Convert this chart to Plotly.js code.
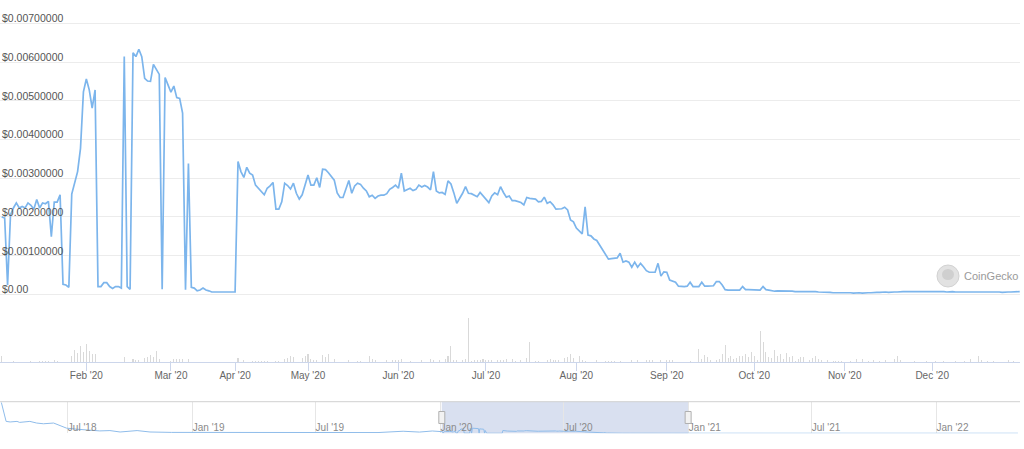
<!DOCTYPE html>
<html>
<head>
<meta charset="utf-8">
<script src="https://cdn.plot.ly/plotly-3.0.1.min.js"></script>
<style>
html,body{margin:0;padding:0;background:#ffffff;}
#chart{width:1024px;height:449px;}
</style>
</head>
<body>
<div id="chart"></div>
<script>
// ---------- DATA ----------
// daily series, Jan 3 2020 .. Dec 31 2020 (days without data are skipped -> ordinal axis)
const startDate = '2020-01-03';
const endDate = '2020-12-31';
const missingDays = ['2020-03-21','2020-03-22','2020-03-23','2020-03-24','2020-03-25',
  '2020-03-26','2020-03-27','2020-03-28','2020-03-29',
  '2020-04-12','2020-04-13','2020-04-14','2020-04-15','2020-04-16'];

const prices = [
  0.00200,0.00197,0.00024,0.00205,0.00223,0.00236,0.00223,0.00227,0.00223,0.00236,
  0.00230,0.00220,0.00245,0.00223,0.00236,0.00234,0.00240,0.00149,0.00238,0.00238,
  0.00257,0.00026,0.00024,0.00018,0.00259,0.00287,0.00317,0.00377,0.00523,0.00556,
  0.00528,0.00481,0.00528,0.00020,0.00020,0.00030,0.00030,0.00020,0.00015,0.00020,
  0.00020,0.00016,0.00614,0.00020,0.00013,0.00624,0.00614,0.00633,0.00614,0.00558,
  0.00551,0.00550,0.00594,0.00581,0.00568,0.00013,0.00560,0.00541,0.00522,0.00538,
  0.00508,0.00506,0.00468,0.00012,0.00338,0.00018,0.00016,0.00009,0.00011,0.00016,
  0.00011,0.00009,0.00006,0.00006,0.00006,0.00007,0.00006,0.00006,0.00006,0.00006,
  0.00006,0.00343,0.00317,0.00302,0.00328,0.00313,0.00308,0.00282,0.00274,0.00267,
  0.00257,0.00274,0.00280,0.00289,0.00220,0.00220,0.00239,0.00287,0.00281,0.00272,
  0.00287,0.00261,0.00246,0.00257,0.00282,0.00308,0.00282,0.00282,0.00301,0.00276,
  0.00323,0.00322,0.00314,0.00304,0.00295,0.00262,0.00250,0.00250,0.00270,0.00294,
  0.00261,0.00280,0.00287,0.00284,0.00274,0.00267,0.00252,0.00256,0.00248,0.00254,
  0.00256,0.00256,0.00260,0.00271,0.00276,0.00282,0.00274,0.00313,0.00267,0.00270,
  0.00274,0.00268,0.00271,0.00282,0.00277,0.00281,0.00277,0.00270,0.00317,0.00267,
  0.00262,0.00263,0.00258,0.00293,0.00285,0.00262,0.00235,0.00248,0.00261,0.00278,
  0.00261,0.00260,0.00257,0.00252,0.00263,0.00254,0.00246,0.00237,0.00254,0.00262,
  0.00257,0.00278,0.00263,0.00251,0.00254,0.00242,0.00242,0.00240,0.00237,0.00231,
  0.00250,0.00248,0.00247,0.00246,0.00239,0.00240,0.00251,0.00235,0.00239,0.00231,
  0.00220,0.00220,0.00221,0.00225,0.00218,0.00192,0.00187,0.00171,0.00164,0.00156,
  0.00226,0.00153,0.00151,0.00143,0.00139,0.00127,0.00116,0.00104,0.00091,0.00092,
  0.00093,0.00094,0.00106,0.00083,0.00086,0.00083,0.00070,0.00083,0.00070,0.00080,
  0.00071,0.00061,0.00057,0.00057,0.00057,0.00080,0.00047,0.00058,0.00057,0.00037,
  0.00035,0.00031,0.00021,0.00020,0.00020,0.00021,0.00031,0.00020,0.00020,0.00020,
  0.00031,0.00021,0.00021,0.00021,0.00022,0.00033,0.00033,0.00024,0.00012,0.00011,
  0.00011,0.00011,0.00011,0.00011,0.00020,0.00012,0.00012,0.00012,0.00011,0.00011,
  0.00011,0.00020,0.00012,0.00011,0.00010,0.00008,0.00009,0.00009,0.00009,0.00009,
  0.00009,0.00008,0.00007,0.00007,0.00008,0.00008,0.00007,0.00007,0.00007,0.00007,
  0.00006,0.00006,0.00005,0.00005,0.00005,0.00004,0.00004,0.00005,0.00004,0.00004,
  0.00004,0.00004,0.00003,0.00004,0.00004,0.00003,0.00004,0.00004,0.00004,0.00005,
  0.00005,0.00005,0.00006,0.00006,0.00005,0.00006,0.00006,0.00006,0.00007,0.00007,
  0.00007,0.00007,0.00008,0.00007,0.00007,0.00007,0.00008,0.00008,0.00007,0.00007,
  0.00007,0.00007,0.00007,0.00007,0.00006,0.00007,0.00007,0.00006,0.00006,0.00007,
  0.00007,0.00006,0.00006,0.00006,0.00006,0.00006,0.00006,0.00006,0.00006,0.00006,
  0.00006,0.00006,0.00006,0.00005,0.00006,0.00006,0.00006,0.00006,0.00007,0.00007
];

const volumes = [
  5.7,0,0,0,1.3,0,0,0,0,0,
  1,0,0,1,1,1,1,0,2,1.5,
  0,0,0,0,6,12,9,16,10,18,
  11,8,8,0,0,0,0,0,0,0,
  0,0,5,0,0,3,2.3,2.3,0,4,
  5,7,5,11,3,0,0,0,1.3,3,
  3,3.3,3.3,0,3,0,0,0,0,0,
  0,0,0,0,0,0,0,0,0,0,
  0,4,0,1.7,0,0,1,1,1,1,
  1,1,0,0,1,1,0,3,4,6,
  5,0,0,4,6,8,3.3,1.7,1.7,0,
  7,5,8,0,3,0,0,0,0,1.7,
  0,0,1.3,1.3,0,0,6,3,1.7,0,
  0,0,2,0,2,2.3,2.3,3,0,0,
  1.3,0,0,0,1.7,0,0,3,2.3,0,
  1.7,0,3,6,16,1.7,2.3,0,2,3.3,
  44,1.3,2,2.3,2.3,3,1.7,2.3,2.3,0,
  1.7,2,2,3,0,3,1.3,0,2,0,
  4,20,0,1.3,1.3,0,0,1.7,3.3,2.3,
  2.3,2,0,4,5,8,4,0,6,1.7,
  1.3,0,0,0,1.7,0,0,1.5,1.5,1.5,
  1.5,0,1.3,0,0,0,1.7,0,1.7,0,
  0,1.7,1.7,2,0,0,1.7,0,2,2.3,
  1.7,0,0,0,0,0,1.3,0,0,13,
  3.3,7,5,1.7,0,2.3,3,8,17,3.7,
  6,3,4,6,5.7,8,5,10,5.7,1.7,
  31,20,10,5,4,12,5.7,8,3,9,
  5,6,1.3,3,5,5,0,1.7,3.7,6,
  3,2.3,0,2,0,1.3,1.3,1.3,1.3,0,
  0,1.3,0,3,0,3,0,1.3,0,1.7,
  0,1.3,0,1.7,0,0,3,6,2.3,0,
  0,0,0,1.3,0,0,0,1.3,0,0,
  1.3,0,0,1.3,0,0,0,1.3,0,0,
  1.3,0,3,0,0,6,1.7,0,1.3,0,
  1.3,0,0,0,0,2,0,1.3,0,0
];

const monthTicks = ['2020-02-01','2020-03-01','2020-04-01','2020-05-01','2020-06-01','2020-07-01',
  '2020-08-01','2020-09-01','2020-10-01','2020-11-01','2020-12-01'];
const monthLabels = ["Feb '20","Mar '20","Apr '20","May '20","Jun '20","Jul '20",
  "Aug '20","Sep '20","Oct '20","Nov '20","Dec '20"];

const priceTicks = [0,0.001,0.002,0.003,0.004,0.005,0.006,0.007];
const priceTickLabels = ['$0.00','$0.00100000','$0.00200000','$0.00300000','$0.00400000',
  '$0.00500000','$0.00600000','$0.00700000'];

// navigator (full history) outside of the 2020 window
const navBeforeDates = ['2018-03-25','2018-03-29','2018-04-01','2018-04-07','2018-04-17','2018-04-21',
  '2018-05-06','2018-05-16','2018-05-26','2018-06-10','2018-06-19','2018-06-29','2018-07-14',
  '2018-07-29','2018-08-17','2018-09-01','2018-09-16','2018-10-11','2018-10-30','2018-12-01',
  '2019-02-01','2019-05-01','2019-08-01','2019-10-01','2019-11-07','2019-12-01','2019-12-20','2020-01-01'];
const navBeforeValues = [0.0375,0.0254,0.0145,0.0138,0.0145,0.0133,
  0.0145,0.0125,0.0116,0.0125,0.0091,0.0063,0.0050,
  0.0041,0.0029,0.0033,0.0016,0.0033,0.0016,0.0011,
  0.0010,0.0009,0.0010,0.0009,0.0025,0.0015,0.0028,0.0020];
const navAfterDates = ['2021-02-01','2021-06-01','2021-12-01','2022-05-01'];
const navAfterValues = [0.00005,0.00004,0.00003,0.00003];

const navTicks = ['2018-07-01','2019-01-01','2019-07-01','2020-01-01','2020-07-01','2021-01-01','2021-07-01','2022-01-01'];
const navLabels = ["Jul '18","Jan '19","Jul '19","Jan '20","Jul '20","Jan '21","Jul '21","Jan '22"];

// ---------- BUILD ----------
function buildDates(start, end, skip) {
  const out = [];
  const d = new Date(start + 'T00:00:00Z');
  const last = new Date(end + 'T00:00:00Z');
  while (d <= last) {
    const s = d.toISOString().slice(0, 10);
    if (skip.indexOf(s) < 0) out.push(s);
    d.setUTCDate(d.getUTCDate() + 1);
  }
  return out;
}
const priceDates = buildDates(startDate, endDate, missingDays);
const n = priceDates.length;

const lineColor = '#7cb5ec';
const FONT = '"Liberation Sans", Arial, Helvetica, sans-serif';

const traces = [
  {
    type: 'bar', x: priceDates, y: volumes, xaxis: 'x', yaxis: 'y2',
    marker: { color: '#d9d9d9', line: { width: 0 } }, width: 0.36, hoverinfo: 'skip'
  },
  {
    type: 'scatter', mode: 'lines', x: priceDates, y: prices, xaxis: 'x', yaxis: 'y',
    line: { color: lineColor, width: 1.7 }, hoverinfo: 'skip'
  },
  {
    type: 'scatter', mode: 'lines',
    x: navBeforeDates.concat(priceDates, navAfterDates),
    y: navBeforeValues.concat(prices, navAfterValues),
    xaxis: 'x3', yaxis: 'y3',
    line: { color: '#8fbcea', width: 1 }, hoverinfo: 'skip'
  }
];

const navTop = 0.10535, navBot = 0.03497, navMid = (navTop + navBot) / 2;
const logoY = (449 - 276) / 449;

const shapes = [
  // navigator selection
  { type: 'rect', xref: 'x3', yref: 'paper', x0: priceDates[0], x1: priceDates[n - 1], y0: navBot, y1: navTop,
    fillcolor: 'rgba(102,133,194,0.25)', line: { width: 0 }, layer: 'below' },
  // navigator top outline
  { type: 'line', xref: 'paper', yref: 'paper', x0: 0, x1: 1, y0: navTop, y1: navTop,
    line: { color: '#d0d0d0', width: 1 } },
  // handles
  { type: 'rect', xref: 'x3', xsizemode: 'pixel', xanchor: priceDates[0], x0: -3, x1: 3,
    yref: 'paper', ysizemode: 'pixel', yanchor: navMid, y0: -6, y1: 6,
    fillcolor: '#f2f2f2', line: { color: '#b0b0b0', width: 1 } },
  { type: 'rect', xref: 'x3', xsizemode: 'pixel', xanchor: priceDates[n - 1], x0: -3, x1: 3,
    yref: 'paper', ysizemode: 'pixel', yanchor: navMid, y0: -6, y1: 6,
    fillcolor: '#f2f2f2', line: { color: '#b0b0b0', width: 1 } },
  // watermark logo
  { type: 'circle', xref: 'paper', yref: 'paper', xsizemode: 'pixel', ysizemode: 'pixel',
    xanchor: 948 / 1020, yanchor: logoY, x0: -11, x1: 11, y0: -11, y1: 11,
    fillcolor: '#e2e2e2', line: { color: '#d2d2d2', width: 1 } },
  { type: 'circle', xref: 'paper', yref: 'paper', xsizemode: 'pixel', ysizemode: 'pixel',
    xanchor: 948 / 1020, yanchor: logoY, x0: -6, x1: 6, y0: -4, y1: 7,
    fillcolor: '#cfcfcf', line: { width: 0 } }
];

// price-axis labels sit just above their gridlines, inside the plot on the left
const priceLabelAnnotations = priceTicks.map((v, k) => ({
  xref: 'paper', yref: 'y', x: 0, y: v, xanchor: 'left', yanchor: 'middle', yshift: 5,
  text: priceTickLabels[k], showarrow: false,
  font: { family: FONT, size: 10.5, color: '#555555' }
}));

const layout = {
  width: 1024, height: 449,
  margin: { l: 0, r: 4, t: 0, b: 0, pad: 0 },
  paper_bgcolor: '#ffffff', plot_bgcolor: 'rgba(0,0,0,0)',
  showlegend: false,
  font: { family: FONT, color: '#666666', size: 10 },
  bargap: 0,
  xaxis: {
    type: 'category', domain: [0, 1], anchor: 'y2', range: [-0.6, n - 0.9],
    tickmode: 'array', tickvals: monthTicks, ticktext: monthLabels,
    ticks: 'outside', ticklen: 8, tickcolor: '#ccd6eb', tickwidth: 1,
    ticklabelstandoff: -4,
    showline: true, linecolor: '#ccd6eb', linewidth: 1,
    showgrid: false, zeroline: false,
    tickfont: { family: FONT, size: 10, color: '#666666' }, fixedrange: true
  },
  yaxis: {
    domain: [0.32728, 0.97394], anchor: 'x', range: [-0.0002, 0.0073],
    tickmode: 'array', tickvals: priceTicks, ticks: '', showticklabels: false,
    showgrid: true, gridcolor: '#ececec', gridwidth: 1,
    zeroline: false, showline: false, fixedrange: true
  },
  yaxis2: {
    domain: [0.19376, 0.2962], anchor: 'x', range: [0, 46], visible: false, fixedrange: true
  },
  xaxis3: {
    type: 'date', domain: [0, 1], anchor: 'y3', range: ['2018-03-23', '2022-05-04'],
    tickmode: 'array', tickvals: navTicks, ticktext: navLabels,
    ticklabelposition: 'inside right', ticks: '', ticklabelstandoff: -6,
    showgrid: true, gridcolor: '#e6e6e6', gridwidth: 1,
    showline: false, zeroline: false,
    tickfont: { family: FONT, size: 10, color: '#8a8a8a' }, fixedrange: true
  },
  yaxis3: {
    domain: [navBot, navTop], anchor: 'x3', range: [0, 0.0385], visible: false, fixedrange: true
  },
  shapes: shapes,
  annotations: priceLabelAnnotations.concat([
    { xref: 'paper', yref: 'paper', x: 962 / 1020, y: logoY, xanchor: 'left', yanchor: 'middle',
      text: 'CoinGecko', showarrow: false, font: { family: FONT, size: 11, color: '#9a9a9a' } }
  ])
};

Plotly.newPlot('chart', traces, layout, { staticPlot: true, displayModeBar: false });
</script>
</body>
</html>
